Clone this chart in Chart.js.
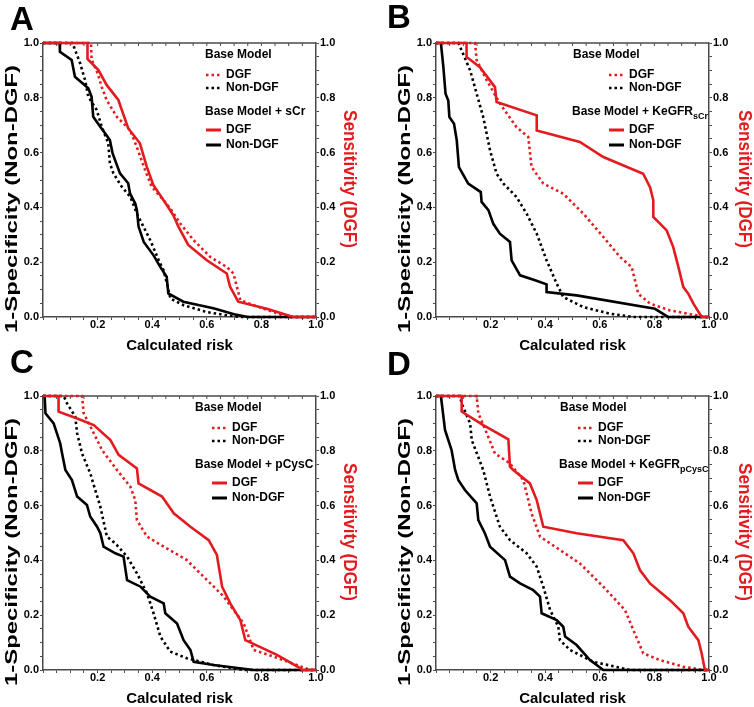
<!DOCTYPE html>
<html>
<head>
<meta charset="utf-8">
<script src="https://cdn.jsdelivr.net/npm/chart.js@4.4.1/dist/chart.umd.min.js"></script>
<style>
  html, body { margin: 0; padding: 0; background: #fff; }
  #wrap { position: relative; width: 754px; height: 707px; overflow: hidden; }
  canvas { position: absolute; }
</style>
</head>
<body>
<div id="wrap">
  <canvas id="chartA" width="377" height="360" style="left:0;top:0"></canvas>
  <canvas id="chartB" width="377" height="360" style="left:377px;top:0"></canvas>
  <canvas id="chartC" width="377" height="367" style="left:0;top:340px"></canvas>
  <canvas id="chartD" width="377" height="367" style="left:377px;top:340px"></canvas>
</div>
<script>
// ---- data ----
// x = calculated risk, y = 1-specificity (Non-DGF) or sensitivity (DGF)

// Panel A: base model vs base model + sCr
const aBaseDgfX = [0, 0.176, 0.178, 0.2, 0.215, 0.233, 0.27, 0.319, 0.343, 0.374, 0.398, 0.441, 0.467, 0.503, 0.552, 0.613, 0.674, 0.698, 0.723, 0.808, 0.882, 0.906, 1];
const aBaseDgfY = [1, 1, 0.94, 0.89, 0.84, 0.792, 0.731, 0.682, 0.622, 0.536, 0.476, 0.427, 0.395, 0.341, 0.28, 0.219, 0.182, 0.158, 0.061, 0.03, 0.006, 0, 0];
const aBaseNonX = [0, 0.108, 0.136, 0.154, 0.166, 0.197, 0.215, 0.239, 0.245, 0.258, 0.288, 0.32, 0.344, 0.369, 0.393, 0.424, 0.442, 0.454, 0.467, 0.515, 0.6, 0.674, 0.723, 1];
const aBaseNonY = [1, 1, 0.926, 0.865, 0.804, 0.755, 0.695, 0.634, 0.561, 0.524, 0.476, 0.438, 0.377, 0.328, 0.28, 0.207, 0.17, 0.122, 0.067, 0.043, 0.018, 0.006, 0, 0];
const aNewDgfX = [0, 0.163, 0.163, 0.203, 0.233, 0.276, 0.312, 0.355, 0.38, 0.404, 0.454, 0.477, 0.496, 0.532, 0.6, 0.673, 0.685, 0.715, 0.82, 0.905, 0.918, 1];
const aNewDgfY = [1, 1, 0.942, 0.901, 0.847, 0.792, 0.689, 0.634, 0.549, 0.482, 0.408, 0.372, 0.33, 0.263, 0.207, 0.159, 0.111, 0.056, 0.03, 0.004, 0, 0];
const aNewNonX = [0, 0.061, 0.062, 0.105, 0.117, 0.166, 0.178, 0.184, 0.209, 0.228, 0.245, 0.255, 0.282, 0.312, 0.319, 0.338, 0.344, 0.35, 0.369, 0.405, 0.43, 0.453, 0.459, 0.514, 0.624, 0.7, 0.75, 1];
const aNewNonY = [1, 1, 0.968, 0.938, 0.877, 0.835, 0.804, 0.731, 0.695, 0.67, 0.646, 0.597, 0.524, 0.488, 0.45, 0.414, 0.39, 0.33, 0.274, 0.225, 0.182, 0.147, 0.086, 0.056, 0.032, 0.01, 0, 0];

// Panel B: base model vs base model + KeGFR(sCr)
const bBaseDgfX = [0, 0.143, 0.149, 0.186, 0.234, 0.295, 0.338, 0.35, 0.393, 0.466, 0.54, 0.613, 0.674, 0.717, 0.741, 0.784, 0.857, 0.955, 0.99, 1];
const bBaseDgfY = [1, 1, 0.937, 0.864, 0.779, 0.693, 0.657, 0.547, 0.487, 0.45, 0.377, 0.292, 0.219, 0.182, 0.085, 0.049, 0.024, 0.006, 0, 0];
const bBaseNonX = [0, 0.082, 0.094, 0.125, 0.149, 0.173, 0.198, 0.222, 0.247, 0.295, 0.332, 0.369, 0.405, 0.442, 0.466, 0.54, 0.637, 0.723, 1];
const bBaseNonY = [1, 1, 0.973, 0.9, 0.815, 0.73, 0.608, 0.523, 0.487, 0.438, 0.377, 0.304, 0.207, 0.122, 0.073, 0.036, 0.012, 0, 0];
const bNewDgfX = [0, 0.112, 0.112, 0.161, 0.216, 0.222, 0.369, 0.369, 0.527, 0.613, 0.759, 0.784, 0.796, 0.796, 0.845, 0.869, 0.888, 0.906, 0.924, 0.943, 0.973, 1];
const bNewDgfY = [1, 1, 0.949, 0.912, 0.839, 0.785, 0.736, 0.681, 0.639, 0.584, 0.523, 0.474, 0.426, 0.365, 0.316, 0.255, 0.182, 0.109, 0.085, 0.049, 0, 0];
const bNewNonX = [0, 0.018, 0.027, 0.035, 0.045, 0.049, 0.066, 0.076, 0.084, 0.118, 0.164, 0.167, 0.192, 0.21, 0.234, 0.271, 0.277, 0.308, 0.363, 0.405, 0.405, 0.515, 0.802, 0.851, 1];
const bNewNonY = [1, 1, 0.912, 0.815, 0.79, 0.73, 0.705, 0.645, 0.547, 0.487, 0.456, 0.42, 0.39, 0.34, 0.304, 0.274, 0.207, 0.152, 0.134, 0.119, 0.091, 0.079, 0.03, 0, 0];

// Panel C: base model vs base model + pCysC
const cBaseDgfX = [0, 0.143, 0.149, 0.186, 0.216, 0.271, 0.32, 0.338, 0.344, 0.381, 0.442, 0.527, 0.588, 0.662, 0.698, 0.735, 0.772, 0.845, 0.93, 0.979, 1];
const cBaseDgfY = [1, 1, 0.937, 0.864, 0.803, 0.73, 0.669, 0.62, 0.547, 0.487, 0.45, 0.401, 0.341, 0.268, 0.219, 0.17, 0.073, 0.049, 0.018, 0, 0];
const cBaseNonX = [0, 0.076, 0.088, 0.118, 0.125, 0.143, 0.173, 0.21, 0.234, 0.265, 0.308, 0.344, 0.381, 0.405, 0.43, 0.466, 0.527, 0.625, 0.735, 1];
const cBaseNonY = [1, 1, 0.973, 0.925, 0.864, 0.79, 0.718, 0.596, 0.487, 0.462, 0.414, 0.353, 0.28, 0.207, 0.122, 0.067, 0.043, 0.018, 0, 0];
const cNewDgfX = [0, 0.057, 0.057, 0.125, 0.186, 0.247, 0.277, 0.344, 0.35, 0.436, 0.479, 0.54, 0.607, 0.637, 0.656, 0.686, 0.723, 0.741, 0.857, 0.943, 0.949, 1];
const cNewDgfY = [1, 1, 0.943, 0.918, 0.894, 0.839, 0.785, 0.736, 0.681, 0.633, 0.572, 0.523, 0.474, 0.42, 0.304, 0.243, 0.182, 0.109, 0.055, 0.006, 0, 0];
const cNewNonX = [0, 0.006, 0.009, 0.039, 0.063, 0.07, 0.082, 0.106, 0.125, 0.161, 0.173, 0.198, 0.21, 0.222, 0.265, 0.295, 0.308, 0.357, 0.393, 0.442, 0.448, 0.491, 0.515, 0.54, 0.552, 0.625, 0.772, 1];
const cNewNonY = [1, 1, 0.937, 0.9, 0.827, 0.79, 0.73, 0.693, 0.633, 0.602, 0.56, 0.523, 0.499, 0.45, 0.426, 0.414, 0.328, 0.304, 0.268, 0.243, 0.207, 0.17, 0.109, 0.073, 0.03, 0.018, 0, 0];

// Panel D: base model vs base model + KeGFR(pCysC)
const dBaseDgfX = [0, 0.149, 0.155, 0.186, 0.216, 0.271, 0.32, 0.35, 0.381, 0.454, 0.527, 0.613, 0.692, 0.723, 0.759, 0.82, 0.906, 0.979, 1];
const dBaseDgfY = [1, 1, 0.937, 0.864, 0.79, 0.754, 0.693, 0.572, 0.487, 0.438, 0.389, 0.304, 0.219, 0.146, 0.061, 0.036, 0.012, 0, 0];
const dBaseNonX = [0, 0.088, 0.094, 0.125, 0.131, 0.173, 0.198, 0.234, 0.271, 0.332, 0.369, 0.393, 0.418, 0.448, 0.454, 0.491, 0.576, 0.711, 1];
const dBaseNonY = [1, 1, 0.973, 0.9, 0.839, 0.73, 0.633, 0.523, 0.474, 0.426, 0.377, 0.304, 0.219, 0.158, 0.109, 0.073, 0.03, 0, 0];
const dNewDgfX = [0, 0.094, 0.094, 0.173, 0.265, 0.271, 0.283, 0.344, 0.369, 0.393, 0.515, 0.686, 0.723, 0.747, 0.784, 0.857, 0.906, 0.924, 0.961, 0.973, 0.985, 1];
const dNewDgfY = [1, 1, 0.943, 0.894, 0.842, 0.742, 0.73, 0.681, 0.62, 0.523, 0.499, 0.474, 0.426, 0.365, 0.316, 0.255, 0.207, 0.158, 0.109, 0.061, 0, 0];
const dNewNonX = [0, 0.018, 0.033, 0.057, 0.07, 0.082, 0.106, 0.149, 0.155, 0.179, 0.198, 0.253, 0.271, 0.308, 0.356, 0.381, 0.387, 0.442, 0.466, 0.473, 0.515, 0.564, 0.613, 1];
const dNewNonY = [1, 1, 0.876, 0.803, 0.73, 0.693, 0.657, 0.608, 0.547, 0.499, 0.45, 0.401, 0.341, 0.316, 0.292, 0.268, 0.207, 0.182, 0.158, 0.122, 0.091, 0.036, 0, 0];

const panelLetters = ['A', 'B', 'C', 'D'];
const addedMarker = ['sCr', 'KeGFR', 'pCysC', 'KeGFR'];
const addedSub = ['', 'sCr', '', 'pCysC'];
const legendItems = ['DGF', 'Non-DGF'];
const xTitle = 'Calculated risk';
const yTitle = '1-Specificity (Non-DGF)';
const y2Title = 'Sensitivity (DGF)';

const RED = '#e31b1f';
const AXIS = '#4a4a4a';
const FONT = '"Liberation Sans", Arial, Helvetica, sans-serif';
Chart.defaults.font.family = FONT;

const pts = (xs, ys) => xs.map((x, i) => ({ x: x, y: ys[i] }));

function tickLabel(v, skipZero) {
  const k = Math.round(v * 20);
  if (k % 4 !== 0) return '';
  if (skipZero && k === 0) return '';
  return (k / 20).toFixed(1);
}

function stretchedText(ctx, str, x, y, size, len, rot, color) {
  ctx.save();
  ctx.font = 'bold ' + size + 'px ' + FONT;
  const w = ctx.measureText(str).width;
  ctx.translate(x, y);
  ctx.rotate(rot);
  ctx.scale(len / w, 1);
  ctx.fillStyle = color;
  ctx.textAlign = 'center';
  ctx.textBaseline = 'middle';
  ctx.fillText(str, 0, 0);
  ctx.restore();
}

function makePanel(id, idx, box, series, leg) {
  // box: canvas origin + chart area, all in page pixels
  const W = 377, H = box.h;
  const left = box.l - box.cx, right = box.r - box.cx;
  const top = box.t - box.cy, bottom = box.b - box.cy;

  const frame = {
    id: 'frame',
    beforeDatasetsDraw(chart) {
      const { ctx, chartArea: a } = chart;
      ctx.save();
      ctx.strokeStyle = AXIS;
      ctx.lineWidth = 1.5;
      ctx.beginPath();
      ctx.moveTo(a.left, a.top);
      ctx.lineTo(a.right, a.top);
      ctx.stroke();
      ctx.lineWidth = 1;
      for (let k = 1; k < 20; k++) {
        const px = chart.scales.x.getPixelForValue(k / 20);
        ctx.beginPath();
        ctx.moveTo(px, a.top);
        ctx.lineTo(px, a.top + 3);
        ctx.stroke();
      }
      ctx.restore();
    }
  };

  const texts = {
    id: 'texts',
    afterDraw(chart) {
      const { ctx, chartArea: a } = chart;
      ctx.save();
      // panel letter
      ctx.fillStyle = '#000';
      ctx.font = 'bold 33px ' + FONT;
      ctx.textAlign = 'left';
      ctx.textBaseline = 'alphabetic';
      ctx.fillText(panelLetters[idx], box.letterX - box.cx, box.letterY - box.cy);

      // axis titles
      stretchedText(ctx, yTitle, a.left - 30.5, a.top + 156, 16.5, 268, -Math.PI / 2, '#000');
      stretchedText(ctx, y2Title, a.right + box.y2off, a.top + 136, 18, 138, Math.PI / 2, RED);
      ctx.fillStyle = '#000';
      ctx.font = 'bold 15px ' + FONT;
      ctx.textAlign = 'center';
      ctx.textBaseline = 'middle';
      ctx.fillText(xTitle, (a.left + a.right) / 2, a.bottom + 29);

      // legend
      const rows = [12, 32, 45, 69, 87, 102].map(r => a.top + r);
      ctx.font = 'bold 12px ' + FONT;
      ctx.textAlign = 'left';
      ctx.fillStyle = '#000';
      ctx.fillText('Base Model', a.left + leg.h1, rows[0]);
      let hx = a.left + leg.h2;
      const head = 'Base Model + ' + addedMarker[idx];
      ctx.fillText(head, hx, rows[3]);
      if (addedSub[idx]) {
        const hw = ctx.measureText(head).width;
        ctx.font = 'bold 9px ' + FONT;
        ctx.fillText(addedSub[idx], hx + hw, rows[3] + 5);
        ctx.font = 'bold 12px ' + FONT;
      }
      const marks = [
        { row: rows[1], color: RED, dash: [2.5, 3], text: legendItems[0] },
        { row: rows[2], color: '#000', dash: [2.5, 3], text: legendItems[1] },
        { row: rows[4], color: RED, dash: [], text: legendItems[0] },
        { row: rows[5], color: '#000', dash: [], text: legendItems[1] }
      ];
      marks.forEach(m => {
        ctx.save();
        ctx.strokeStyle = m.color;
        ctx.lineWidth = m.dash.length ? 2.6 : 3;
        ctx.setLineDash(m.dash);
        ctx.beginPath();
        ctx.moveTo(a.left + leg.m, m.row);
        ctx.lineTo(a.left + leg.m + 15, m.row);
        ctx.stroke();
        ctx.restore();
        ctx.fillStyle = '#000';
        ctx.fillText(m.text, a.left + leg.t, m.row);
      });
      ctx.restore();
    }
  };

  const tickFont = { size: 11, weight: 'bold' };
  const common = {
    type: 'linear', min: 0, max: 1,
    border: { color: AXIS, width: 1.5 },
    grid: { drawOnChartArea: false, drawTicks: true, tickLength: 3, color: AXIS, lineWidth: 1 },
  };

  new Chart(document.getElementById(id), {
    type: 'line',
    data: {
      datasets: [
        { data: pts(series.newDgfX, series.newDgfY), yAxisID: 'y1', borderColor: RED, borderWidth: 2.6 },
        { data: pts(series.newNonX, series.newNonY), yAxisID: 'y', borderColor: '#000', borderWidth: 2.6 },
        { data: pts(series.baseDgfX, series.baseDgfY), yAxisID: 'y1', borderColor: RED, borderWidth: 2.6, borderDash: [2.5, 3] },
        { data: pts(series.baseNonX, series.baseNonY), yAxisID: 'y', borderColor: '#000', borderWidth: 2.6, borderDash: [2.5, 3] }
      ]
    },
    options: {
      responsive: false,
      animation: false,
      clip: 4,
      elements: { point: { radius: 0 }, line: { tension: 0, fill: false } },
      layout: { padding: { top: top, left: 0, right: 0, bottom: 0 } },
      scales: {
        x: Object.assign({}, common, {
          position: 'bottom',
          afterFit: s => { s.height = H - bottom; },
          ticks: { stepSize: 0.05, autoSkip: false, maxRotation: 0, padding: -2, color: '#000', font: tickFont,
                   callback: v => tickLabel(v, true) }
        }),
        y: Object.assign({}, common, {
          position: 'left',
          afterFit: s => { s.width = left; },
          ticks: { stepSize: 0.05, autoSkip: false, padding: 1, color: '#000', font: tickFont,
                   callback: v => tickLabel(v, false) }
        }),
        y1: Object.assign({}, common, {
          position: 'right',
          afterFit: s => { s.width = W - right; },
          ticks: { stepSize: 0.05, autoSkip: false, padding: 1, color: '#000', font: tickFont,
                   callback: v => tickLabel(v, false) }
        })
      },
      plugins: { legend: { display: false }, tooltip: { enabled: false } }
    },
    plugins: [frame, texts]
  });
}

makePanel('chartA', 0,
  { cx: 0, cy: 0, h: 360, l: 43, r: 316, t: 43, b: 317, letterX: 10, letterY: 30, y2off: 33 },
  { baseDgfX: aBaseDgfX, baseDgfY: aBaseDgfY, baseNonX: aBaseNonX, baseNonY: aBaseNonY,
    newDgfX: aNewDgfX, newDgfY: aNewDgfY, newNonX: aNewNonX, newNonY: aNewNonY },
  { h1: 162, h2: 162, m: 163, t: 183 });

makePanel('chartB', 1,
  { cx: 377, cy: 0, h: 360, l: 436, r: 709, t: 43, b: 317, letterX: 387, letterY: 28, y2off: 35 },
  { baseDgfX: bBaseDgfX, baseDgfY: bBaseDgfY, baseNonX: bBaseNonX, baseNonY: bBaseNonY,
    newDgfX: bNewDgfX, newDgfY: bNewDgfY, newNonX: bNewNonX, newNonY: bNewNonY },
  { h1: 137, h2: 136, m: 173, t: 193 });

makePanel('chartC', 2,
  { cx: 0, cy: 340, h: 367, l: 43, r: 316, t: 396, b: 670, letterX: 10, letterY: 373, y2off: 33 },
  { baseDgfX: cBaseDgfX, baseDgfY: cBaseDgfY, baseNonX: cBaseNonX, baseNonY: cBaseNonY,
    newDgfX: cNewDgfX, newDgfY: cNewDgfY, newNonX: cNewNonX, newNonY: cNewNonY },
  { h1: 152, h2: 152, m: 169, t: 189 });

makePanel('chartD', 3,
  { cx: 377, cy: 340, h: 367, l: 436, r: 709, t: 396, b: 670, letterX: 387, letterY: 375, y2off: 35 },
  { baseDgfX: dBaseDgfX, baseDgfY: dBaseDgfY, baseNonX: dBaseNonX, baseNonY: dBaseNonY,
    newDgfX: dNewDgfX, newDgfY: dNewDgfY, newNonX: dNewNonX, newNonY: dNewNonY },
  { h1: 124, h2: 123, m: 142, t: 162 });
</script>
</body>
</html>
